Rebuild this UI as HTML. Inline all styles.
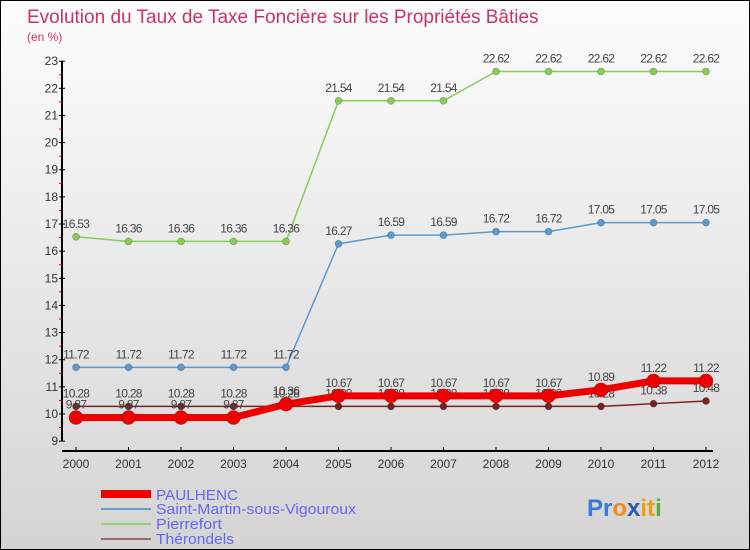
<!DOCTYPE html>
<html><head><meta charset="utf-8"><style>
body{margin:0}
#c{width:748px;height:548px;border:1px solid #000;position:relative;background:linear-gradient(#fdfdfd,#d4d4d4);font-family:"Liberation Sans",sans-serif;overflow:hidden}
svg{position:absolute;left:0;top:0}
</style></head><body>
<div id="c">
<svg id="s" width="750" height="550">
<text x="26" y="22" font-size="19" fill="#c8326a">Evolution du Taux de Taxe Foncière sur les Propriétés Bâties</text>
<text x="26" y="40" font-size="12" fill="#c8326a">(en %)</text>
<g id="g"></g>
<g>
<rect x="100" y="489" width="50" height="8" fill="#e00"/>
<text x="155" y="499" font-size="15" fill="#6666ee" textLength="82" lengthAdjust="spacingAndGlyphs">PAULHENC</text>
<line x1="100" y1="508" x2="150" y2="508" stroke="#6a9ccc" stroke-width="2"/>
<text x="155" y="513" font-size="15" fill="#6666ee" textLength="200" lengthAdjust="spacingAndGlyphs">Saint-Martin-sous-Vigouroux</text>
<line x1="100" y1="523" x2="150" y2="523" stroke="#90d070" stroke-width="2"/>
<text x="155" y="528" font-size="15" fill="#6666ee" textLength="66" lengthAdjust="spacingAndGlyphs">Pierrefort</text>
<line x1="100" y1="538" x2="150" y2="538" stroke="#9a6b6b" stroke-width="2"/>
<text x="155" y="543" font-size="15" fill="#6666ee" textLength="78" lengthAdjust="spacingAndGlyphs">Thérondels</text>
</g>
<text x="586" y="515" font-size="24" font-weight="bold"><tspan fill="#3a7bd5">Pr</tspan><tspan fill="#f08a1a">o</tspan><tspan fill="#2a5ab5">x</tspan><tspan fill="#e8a010">it</tspan><tspan fill="#58b030">i</tspan></text>
</svg>
</div>
<script>
const years=[2000,2001,2002,2003,2004,2005,2006,2007,2008,2009,2010,2011,2012];
const yTicks=[9,10,11,12,13,14,15,16,17,18,19,20,21,22,23];
const paulhenc=[9.87,9.87,9.87,9.87,10.36,10.67,10.67,10.67,10.67,10.67,10.89,11.22,11.22];
const saintMartin=[11.72,11.72,11.72,11.72,11.72,16.27,16.59,16.59,16.72,16.72,17.05,17.05,17.05];
const pierrefort=[16.53,16.36,16.36,16.36,16.36,21.54,21.54,21.54,22.62,22.62,22.62,22.62,22.62];
const therondels=[10.28,10.28,10.28,10.28,10.28,10.28,10.28,10.28,10.28,10.28,10.28,10.38,10.48];
const NS="http://www.w3.org/2000/svg";
const g=document.getElementById('g');
const X=i=>75+i*52.5;
const Y=v=>413-(v-10)*27.14;
function el(t,a,p){const e=document.createElementNS(NS,t);for(const k in a)e.setAttribute(k,a[k]);(p||g).appendChild(e);return e;}
let a=el('line',{x1:61,y1:Y(23),x2:61,y2:Y(9),stroke:'#000','stroke-width':2});


a=el('line',{x1:61,y1:450,x2:712,y2:450,stroke:'#000','stroke-width':2});


yTicks.forEach(v=>{
 el('line',{x1:58,y1:Y(v),x2:64,y2:Y(v),stroke:'#000'});
 if(v<23)el('line',{x1:58,y1:Y(v+0.5),x2:61,y2:Y(v+0.5),stroke:'#e00'});
 const t=el('text',{x:57,y:Y(v)+4,'font-size':12,fill:'#333','text-anchor':'end'});
 t.textContent=v;
 
 
});
years.forEach((y,i)=>{
 el('line',{x1:X(i),y1:446,x2:X(i),y2:450,stroke:'#000'});
 const t=el('text',{x:X(i),y:467,'font-size':12,fill:'#333','text-anchor':'middle'});
 t.textContent=y;
 
 
});
function series(data,color,w,r,name){
 const p=el('polyline',{points:data.map((v,i)=>X(i)+','+Y(v)).join(' '),fill:'none',stroke:color,'stroke-width':w});
 
 
 data.forEach((v,i)=>{
  const c=el('circle',{cx:X(i),cy:Y(v),r:r,fill:color,stroke:'rgba(0,0,0,0.3)','stroke-width':0.6});
  
  
  const t=el('text',{x:X(i),y:Y(v)-9,'font-size':12,fill:'#444','text-anchor':'middle','letter-spacing':'-0.7'});
  t.textContent=v;
  
  
 });
}
series(pierrefort,'#88cc55',1.5,3.5,'pierrefort');
series(saintMartin,'#5a9ad0',1.5,3.5,'saint-martin');
series(therondels,'#7a2020',1.5,3.5,'therondels');
series(paulhenc,'#ee0000',7,7,'paulhenc');
</script>
</body></html>
